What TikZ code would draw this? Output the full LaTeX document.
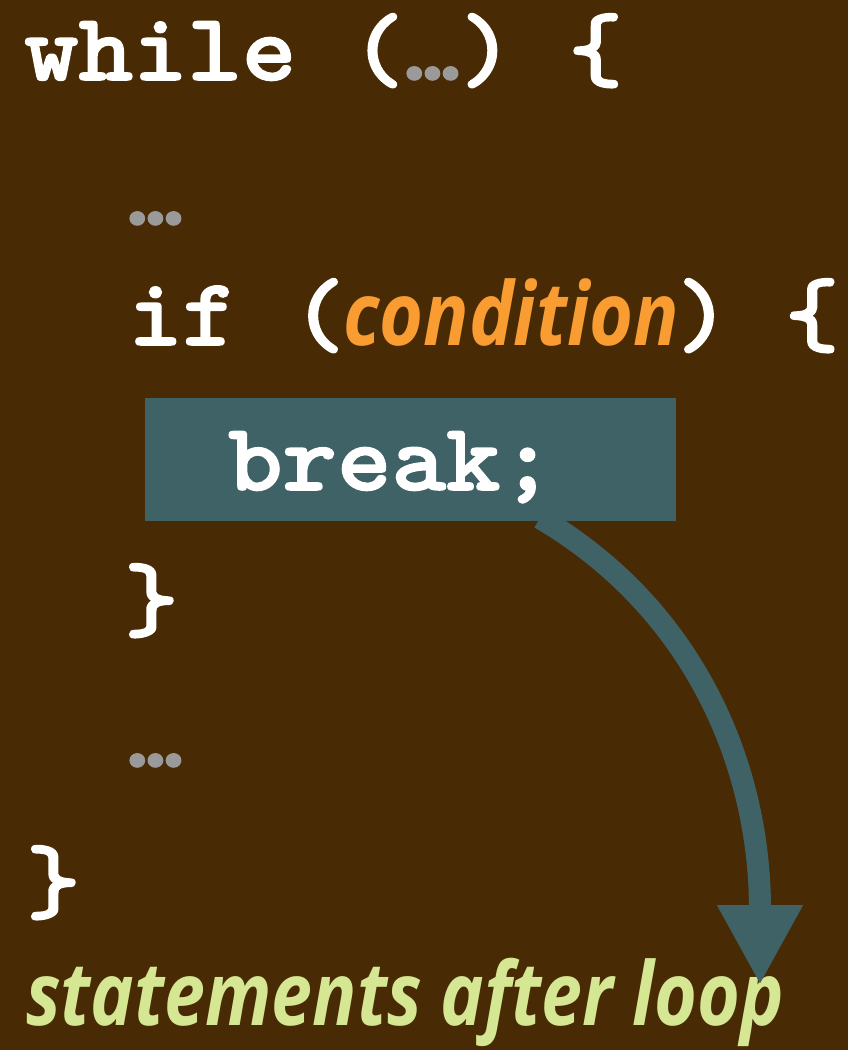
\documentclass[tikz,border=0pt]{standalone}
\usepackage{fontspec}
\usepackage{graphicx}
\newfontfamily\slidefont{Open Sans}
\newfontfamily\codefont[FakeBold=1.6,FakeStretch=1.08]{lmmonolt10-bold.otf}
\usetikzlibrary{arrows.meta}

\definecolor{slidebg}{HTML}{482B04}
\definecolor{dotgray}{HTML}{9A9A9A}
\definecolor{condorange}{HTML}{F99D33}
\definecolor{afterlime}{HTML}{D6E793}
\definecolor{breakteal}{HTML}{3F6266}

\begin{document}
\begin{tikzpicture}[
    x=1pt, y=-1pt,
    code/.style={
        text=white,
        font=\fontsize{96}{96}\selectfont\codefont,
        inner sep=0pt,
        anchor=base west
    },
    dots/.style={
        code,
        text=dotgray
    },
    note/.style={
        inner sep=0pt,
        anchor=base west,
        font=\fontsize{88}{88}\selectfont\slidefont\bfseries\itshape
    },
    jumpbox/.style={
        fill=breakteal,
        inner sep=0pt,
        anchor=north west,
        minimum width=531pt,
        minimum height=123pt
    },
    jump/.style={
        draw=breakteal,
        line width=22pt,
        -{Triangle[width=80pt,length=80pt]}
    }
]
\fill[slidebg] (0,0) rectangle (848,1050);

% Code lines
\node [code] (while) at (24,80) {while (\textcolor{dotgray}{\dots}) \{};
\node [dots] (pre) at (128,225) {\dots};
\node [code] (if) at (128,345) {if (};
\node [note, text=condorange] (cond) at (343,345) {\resizebox{336pt}{\height}{condition}};
\node [code] (ifclose) at (676,345) {) \{};
\node [jumpbox] (brkbox) at (145,398) {};
\node [code] (brk) at (228,490) {break;};
\node [code] (ifend) at (124,630) {\}};
\node [dots] (post) at (128,767) {\dots};
\node [code] (whileend) at (26,912) {\}};
\node [note, text=afterlime] (after) at (26,1025) {\resizebox{758pt}{\height}{statements after loop}};

% Jump
\coordinate (leave) at (540,518);
\coordinate (land) at (760,985);
\draw [jump] (leave) .. controls (690,606) and (760,760) .. (land);

\end{tikzpicture}
\end{document}
